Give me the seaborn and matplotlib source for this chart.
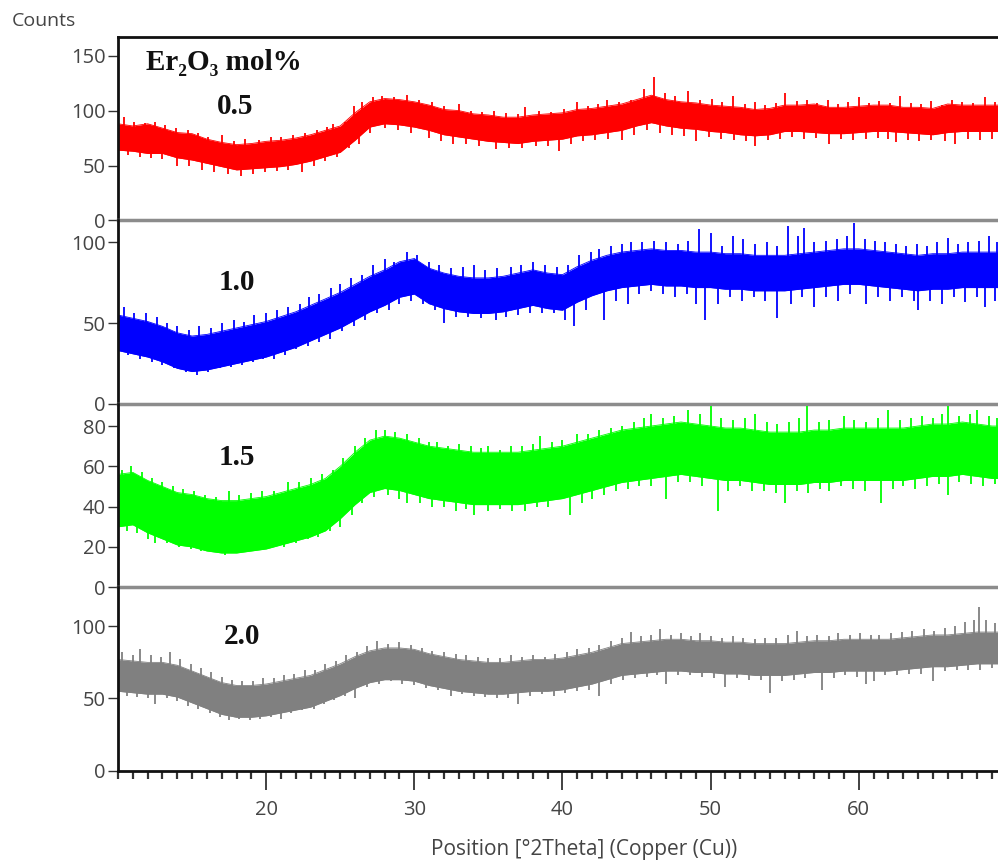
import numpy as np
import matplotlib
matplotlib.use("Agg")
import matplotlib.pyplot as plt
import seaborn as sns
from matplotlib.ticker import MultipleLocator

sns.set_theme(style="white")
plt.rcParams["font.family"] = ["Open Sans", "DejaVu Sans"]

# ---------------- data ----------------
DEG = list(range(10, 71))  # 2-theta sampling grid, degrees

LABELS = ["0.5", "1.0", "1.5", "2.0"]
COLORS = ["#ff0000", "#0000ff", "#00ff00", "#808080"]

# dense noise band (lower / upper edge) for each sample
RED_HI = [88, 86, 88, 84, 80, 79, 74, 71, 69, 70,
          72, 73, 75, 78, 82, 86, 98, 108, 111, 110,
          108, 105, 101, 100, 97, 96, 94, 94, 96, 97,
          98, 101, 102, 104, 106, 110, 114, 110, 108, 107,
          105, 104, 103, 101, 102, 105, 105, 106, 103, 103,
          104, 105, 105, 103, 103, 102, 106, 105, 105, 105, 105]
RED_LO = [64, 63, 61, 61, 57, 55, 52, 49, 46, 47,
          48, 49, 51, 54, 58, 62, 73, 85, 88, 87,
          85, 82, 78, 76, 74, 72, 71, 70, 72, 73,
          74, 77, 78, 80, 82, 86, 89, 86, 84, 83,
          81, 80, 78, 77, 78, 81, 81, 80, 79, 79,
          80, 81, 81, 80, 79, 78, 80, 81, 81, 81, 81]

BLUE_HI = [55, 53, 51, 48, 44, 42, 43, 45, 47, 49,
           51, 54, 57, 61, 65, 69, 74, 79, 83, 88,
           90, 84, 81, 79, 78, 78, 79, 81, 83, 81,
           80, 85, 89, 92, 94, 95, 96, 95, 95, 94,
           94, 93, 93, 92, 92, 92, 93, 94, 95, 96,
           96, 95, 94, 93, 92, 93, 93, 94, 94, 94, 94]
BLUE_LO = [33, 31, 29, 26, 22, 20, 21, 23, 25, 27,
           29, 32, 35, 39, 43, 47, 52, 57, 61, 66,
           68, 62, 59, 57, 56, 56, 57, 59, 61, 59,
           58, 63, 67, 70, 72, 73, 74, 73, 73, 72,
           72, 71, 71, 70, 70, 70, 71, 72, 73, 74,
           74, 73, 72, 71, 70, 71, 71, 72, 72, 72, 72]

GREEN_HI = [56, 57, 53, 50, 47, 46, 44, 43, 43, 44,
            45, 47, 49, 51, 54, 60, 67, 73, 75, 74,
            72, 70, 69, 68, 67, 67, 67, 67, 68, 69,
            70, 72, 74, 76, 78, 79, 80, 81, 82, 81,
            80, 79, 79, 78, 77, 77, 77, 78, 78, 79,
            79, 79, 79, 79, 80, 81, 81, 82, 81, 80, 80]
GREEN_LO = [30, 31, 27, 24, 21, 20, 18, 17, 17, 18,
            19, 21, 23, 25, 28, 34, 41, 47, 49, 48,
            46, 44, 43, 42, 41, 41, 41, 41, 42, 43,
            44, 46, 48, 50, 52, 53, 54, 55, 56, 55,
            54, 53, 53, 52, 51, 51, 51, 52, 52, 53,
            53, 53, 53, 53, 54, 55, 55, 56, 55, 54, 54]

GRAY_HI = [77, 76, 75, 75, 73, 69, 65, 61, 59, 59,
           60, 62, 64, 66, 70, 74, 79, 83, 85, 85,
           84, 81, 79, 77, 76, 75, 75, 76, 77, 77,
           78, 80, 82, 85, 88, 89, 90, 91, 91, 90,
           90, 89, 89, 88, 88, 88, 89, 90, 90, 91,
           91, 91, 91, 92, 93, 94, 94, 95, 96, 96, 96]
GRAY_LO = [55, 54, 53, 53, 51, 47, 43, 39, 37, 37,
           38, 40, 42, 44, 48, 52, 57, 61, 63, 63,
           62, 59, 57, 55, 54, 53, 53, 54, 55, 55,
           56, 58, 60, 63, 66, 67, 68, 69, 69, 68,
           68, 67, 67, 66, 66, 66, 67, 68, 68, 69,
           69, 69, 69, 70, 71, 72, 72, 73, 74, 74, 74]

# spikes rising above / dipping below the band (x in degrees, y in counts)
RED_UP_X = [10.4, 11.1, 11.8, 12.5, 13.2, 13.9, 14.7, 15.4, 16.1, 17.0, 17.8, 18.6, 19.5,
            20.3, 21.0, 21.8, 22.6, 23.4, 24.1, 24.5, 25.3, 25.9, 26.5, 27.2, 27.8, 28.6,
            29.5, 30.3, 31.2, 32.0, 33.0, 33.8, 34.6, 35.4, 36.2, 37.0, 37.5, 38.4, 39.2,
            40.1, 41.0, 41.7, 42.4, 43.0, 43.8, 44.6, 45.5, 46.2, 46.9, 47.6, 48.5, 49.3,
            50.1, 50.8, 51.5, 52.3, 53.0, 53.7, 54.4, 55.0, 55.8, 56.5, 57.2, 57.9, 58.6,
            59.3, 60.0, 60.7, 61.4, 62.1, 62.8, 63.5, 64.2, 64.9, 65.6, 66.3, 67.0, 67.7,
            68.5, 69.2]
RED_UP_Y = [94, 90, 89, 90, 87, 84, 82, 80, 76, 78, 72, 74, 73,
            76, 76, 78, 80, 82, 85, 88, 90, 104, 108, 112, 113, 112,
            114, 110, 108, 104, 106, 100, 99, 100, 98, 97, 103, 100, 99,
            101, 108, 104, 106, 110, 108, 110, 120, 131, 116, 113, 118, 110,
            111, 108, 113, 106, 108, 105, 107, 116, 109, 110, 107, 110, 106,
            108, 112, 107, 109, 107, 113, 107, 106, 109, 105, 110, 108, 107,
            112, 108]
RED_DN_X = [10.7, 11.5, 12.2, 13.0, 14.0, 14.8, 15.7, 16.5, 17.4, 18.3, 19.1, 19.9, 20.7,
            21.5, 22.4, 23.2, 24.0, 24.8, 25.6, 26.3, 27.0, 28.0, 28.9, 29.8, 31.0, 31.8,
            32.6, 33.5, 34.4, 35.5, 36.4, 37.3, 38.2, 39.0, 39.8, 40.6, 41.4, 42.2, 43.1,
            44.0, 44.8, 45.7, 46.6, 47.4, 48.2, 49.0, 49.9, 50.7, 51.6, 52.4, 53.0, 53.9,
            54.7, 55.5, 56.3, 57.1, 58.0, 58.8, 59.6, 60.5, 61.3, 62.0, 62.5, 63.3, 64.1,
            64.9, 65.8, 66.5, 67.4, 68.2, 69.0]
RED_DN_Y = [60, 58, 57, 56, 50, 50, 46, 44, 42, 40, 42, 44, 45,
            46, 44, 50, 54, 58, 66, 70, 80, 84, 82, 80, 75, 72,
            70, 70, 68, 65, 66, 66, 68, 68, 63, 70, 72, 73, 74,
            73, 78, 82, 80, 78, 77, 72, 76, 74, 73, 72, 68, 73,
            74, 76, 74, 75, 70, 74, 73, 74, 75, 74, 71, 73, 72,
            73, 72, 70, 74, 73, 74]

BLUE_UP_X = [10.4, 11.1, 11.9, 12.6, 13.3, 14.0, 14.8, 15.5, 16.3, 17.0, 17.8, 18.5, 19.2,
             20.0, 20.7, 21.5, 22.3, 22.9, 23.6, 24.4, 25.0, 25.7, 26.5, 27.2, 28.0, 28.6,
             29.5, 30.2, 31.0, 31.7, 32.5, 33.3, 34.0, 34.8, 35.6, 36.5, 37.2, 38.0, 38.8,
             39.6, 40.4, 41.1, 41.9, 42.5, 43.3, 44.0, 44.6, 45.4, 46.2, 47.0, 47.8, 48.5,
             49.2, 50.0, 50.8, 51.5, 52.2, 53.0, 53.8, 54.5, 55.2, 55.9, 56.3, 57.0, 57.8,
             58.5, 59.2, 59.7, 60.4, 61.1, 61.8, 62.5, 63.2, 63.9, 64.6, 65.3, 66.0, 66.7,
             67.4, 68.1, 68.8, 69.3]
BLUE_UP_Y = [60, 56, 56, 54, 50, 48, 46, 48, 47, 50, 52, 51, 55,
             56, 58, 60, 62, 66, 68, 72, 74, 78, 80, 86, 90, 88,
             94, 92, 88, 86, 84, 85, 86, 83, 84, 85, 86, 88, 86,
             85, 86, 92, 94, 96, 98, 99, 100, 100, 101, 100, 99, 101,
             108, 106, 98, 104, 102, 99, 100, 98, 110, 104, 109, 100, 101,
             102, 104, 112, 102, 101, 100, 99, 98, 99, 98, 100, 103, 99,
             100, 101, 104, 100]
BLUE_DN_X = [10.7, 11.5, 12.3, 13.0, 13.8, 14.6, 15.3, 16.1, 16.9, 17.6, 18.4, 19.1, 19.8,
             20.5, 21.3, 22.0, 22.8, 23.6, 24.3, 25.1, 25.9, 26.7, 27.5, 28.3, 29.0, 29.8,
             30.6, 31.4, 32.0, 32.8, 33.6, 34.5, 35.5, 36.2, 37.0, 37.8, 38.6, 39.4, 40.2,
             40.8, 41.6, 42.8, 43.6, 44.4, 45.2, 46.0, 46.8, 47.6, 48.4, 49.0, 49.6, 50.5,
             51.3, 52.1, 52.9, 53.7, 54.5, 55.4, 56.2, 57.0, 57.8, 58.6, 59.4, 60.5, 61.3,
             62.1, 62.9, 63.7, 64.0, 64.8, 65.6, 66.4, 67.2, 68.0, 68.5, 69.2]
BLUE_DN_Y = [30, 28, 26, 24, 22, 20, 18, 20, 22, 23, 24, 26, 28,
             28, 30, 34, 36, 38, 40, 45, 48, 52, 56, 58, 62, 64,
             62, 58, 50, 54, 54, 53, 52, 54, 55, 56, 56, 56, 52,
             48, 58, 52, 64, 62, 68, 70, 68, 66, 68, 62, 52, 62,
             66, 64, 66, 64, 53, 62, 66, 60, 66, 64, 68, 62, 66,
             64, 66, 64, 58, 64, 62, 66, 63, 66, 60, 64]

GREEN_UP_X = [10.3, 10.9, 11.6, 12.3, 13.0, 13.7, 14.4, 15.1, 15.9, 16.6, 17.5, 18.2, 19.0,
              19.7, 20.5, 21.5, 22.2, 23.0, 23.8, 24.5, 25.2, 26.0, 26.7, 27.4, 28.0, 28.7,
              29.5, 30.3, 31.0, 31.5, 32.3, 33.0, 33.8, 34.5, 35.0, 35.8, 36.5, 37.3, 38.0,
              38.5, 39.3, 40.0, 41.0, 41.7, 42.5, 43.3, 44.0, 44.8, 45.5, 46.0, 46.8, 47.5,
              48.5, 49.3, 50.0, 50.7, 51.5, 52.3, 53.0, 53.8, 54.5, 55.3, 56.0, 56.5, 57.3,
              58.0, 59.0, 59.7, 60.5, 61.3, 62.0, 62.8, 63.5, 64.3, 65.0, 65.6, 66.0, 66.8,
              67.5, 68.0, 68.8, 69.3]
GREEN_UP_Y = [58, 60, 57, 54, 52, 50, 49, 48, 46, 45, 48, 46, 47,
              48, 48, 52, 52, 54, 56, 58, 64, 70, 74, 78, 78, 77,
              76, 74, 72, 72, 70, 71, 70, 69, 70, 68, 70, 70, 71,
              75, 72, 73, 76, 76, 78, 79, 80, 82, 84, 86, 84, 85,
              88, 86, 90, 84, 83, 84, 86, 82, 81, 82, 84, 90, 82,
              83, 85, 83, 82, 84, 88, 83, 84, 85, 84, 86, 90, 85,
              86, 88, 85, 84]
GREEN_DN_X = [10.6, 11.3, 12.0, 12.5, 13.3, 14.1, 14.9, 15.6, 16.5, 17.2, 18.0, 18.8, 19.5,
              20.5, 21.2, 22.0, 22.8, 23.5, 24.3, 25.0, 25.8, 26.5, 27.3, 28.2, 29.0, 29.5,
              30.4, 31.2, 32.0, 32.8, 33.5, 34.0, 35.0, 35.8, 36.6, 37.5, 38.3, 39.0, 40.5,
              41.3, 42.0, 42.8, 43.6, 44.4, 45.2, 46.0, 47.0, 47.8, 48.6, 49.4, 50.5, 51.2,
              52.0, 52.8, 53.6, 54.4, 55.0, 55.8, 56.6, 57.4, 58.0, 58.8, 59.6, 60.4, 61.5,
              62.3, 63.0, 63.8, 64.6, 65.4, 66.0, 66.8, 67.6, 68.4, 69.2]
GREEN_DN_Y = [28, 27, 24, 22, 22, 20, 19, 18, 18, 16, 17, 18, 19,
              20, 20, 22, 24, 25, 28, 30, 36, 42, 45, 46, 44, 42,
              42, 40, 40, 38, 39, 36, 38, 39, 38, 38, 40, 40, 36,
              42, 44, 46, 48, 49, 50, 50, 44, 52, 52, 50, 38, 48,
              50, 48, 48, 47, 42, 48, 47, 49, 48, 50, 49, 48, 42,
              49, 50, 49, 50, 51, 46, 52, 51, 50, 51]

GRAY_UP_X = [10.3, 11.0, 11.5, 12.2, 12.9, 13.5, 14.2, 14.9, 15.6, 16.3, 17.0, 17.7, 18.4,
             19.1, 19.8, 20.5, 21.2, 21.9, 22.6, 23.3, 24.0, 24.7, 25.4, 26.1, 26.8, 27.5,
             28.2, 29.0, 29.8, 30.5, 31.2, 32.0, 32.8, 33.5, 34.3, 35.0, 35.8, 36.5, 37.3,
             38.0, 38.8, 39.5, 40.3, 41.0, 41.8, 42.5, 43.3, 44.0, 44.6, 45.3, 46.0, 46.6,
             47.3, 48.0, 48.7, 49.3, 50.0, 50.8, 51.5, 52.2, 53.0, 53.7, 54.4, 55.2, 55.8,
             56.5, 57.2, 58.0, 58.6, 59.4, 60.1, 60.8, 61.4, 62.2, 62.9, 63.6, 64.4, 65.1,
             65.8, 66.5, 67.2, 67.8, 68.1, 68.6, 69.2]
GRAY_UP_Y = [82, 80, 84, 80, 79, 82, 77, 74, 71, 68, 65, 63, 62,
             62, 64, 64, 66, 67, 70, 70, 74, 76, 80, 82, 86, 90,
             88, 89, 87, 85, 83, 82, 81, 80, 79, 78, 78, 80, 79,
             80, 79, 81, 82, 84, 85, 87, 90, 92, 96, 93, 94, 98,
             94, 95, 93, 95, 93, 92, 93, 92, 91, 92, 92, 94, 97,
             93, 94, 93, 95, 94, 95, 94, 94, 95, 96, 97, 98, 97,
             99, 100, 103, 104, 113, 104, 102]
GRAY_DN_X = [10.6, 11.3, 12.0, 12.5, 13.3, 14.0, 14.7, 15.4, 16.2, 16.9, 17.5, 18.2, 18.9,
             19.6, 20.3, 21.0, 21.7, 22.4, 23.2, 23.9, 24.6, 25.3, 26.0, 26.8, 27.6, 28.4,
             29.2, 30.0, 30.8, 31.6, 32.5, 33.2, 34.0, 34.8, 35.6, 36.3, 37.0, 37.8, 38.6,
             39.4, 40.2, 41.0, 41.8, 42.5, 43.3, 44.1, 44.9, 45.7, 46.4, 47.0, 47.8, 48.6,
             49.4, 50.2, 51.0, 51.8, 52.6, 53.4, 54.0, 54.8, 55.6, 56.4, 57.5, 58.3, 59.1,
             59.9, 60.5, 61.0, 61.8, 62.6, 63.4, 64.2, 65.0, 65.8, 66.6, 67.4, 68.2, 69.0]
GRAY_DN_Y = [52, 51, 50, 46, 50, 48, 45, 43, 40, 37, 35, 36, 35,
             36, 37, 36, 40, 42, 43, 46, 49, 52, 50, 58, 60, 62,
             60, 59, 57, 56, 52, 53, 52, 51, 50, 50, 46, 52, 53,
             52, 54, 55, 56, 52, 60, 63, 64, 65, 66, 60, 66, 66,
             65, 64, 58, 64, 63, 63, 54, 62, 63, 64, 56, 64, 66,
             65, 60, 62, 66, 66, 67, 67, 62, 69, 70, 70, 70, 71]

BANDS = [(RED_LO, RED_HI), (BLUE_LO, BLUE_HI), (GREEN_LO, GREEN_HI), (GRAY_LO, GRAY_HI)]
SPIKES = [(RED_UP_X, RED_UP_Y, RED_DN_X, RED_DN_Y),
          (BLUE_UP_X, BLUE_UP_Y, BLUE_DN_X, BLUE_DN_Y),
          (GREEN_UP_X, GREEN_UP_Y, GREEN_DN_X, GREEN_DN_Y),
          (GRAY_UP_X, GRAY_UP_Y, GRAY_DN_X, GRAY_DN_Y)]

YLIMS = [167, 113.6, 91, 127]
YTICKS = [[0, 50, 100, 150], [0, 50, 100], [0, 20, 40, 60, 80], [0, 50, 100]]
X_MAJOR = [20, 30, 40, 50, 60]
X_RANGE = (10, 69.4)

# ---------------- figure ----------------
W, Hpx = 998, 867
fig = plt.figure(figsize=(W / 100, Hpx / 100), dpi=100)
L, R = 118 / W, 1.0
B, T = 1 - 770.7 / Hpx, 1 - 37 / Hpx
h = (T - B) / 4
axes = [fig.add_axes([L, T - (i + 1) * h, R - L, h]) for i in range(4)]

TXT = "#444444"
for i, ax in enumerate(axes):
    lo, hi = BANDS[i]
    col = COLORS[i]
    ax.fill_between(DEG, lo, hi, color=col, lw=0)
    sns.lineplot(x=DEG, y=hi, ax=ax, color=col, lw=0.6)
    sns.lineplot(x=DEG, y=lo, ax=ax, color=col, lw=0.6)
    mid = (np.array(lo) + np.array(hi)) / 2
    ux, uy, dx, dy = SPIKES[i]
    ax.vlines(ux, np.interp(ux, DEG, mid), uy, color=col, lw=1.3)
    ax.vlines(dx, dy, np.interp(dx, DEG, mid), color=col, lw=1.3)

    ax.set_xlim(*X_RANGE)
    ax.set_ylim(0, YLIMS[i])
    ax.set_yticks(YTICKS[i])
    ax.set_ylabel("")
    ax.set_xlabel("")
    ax.tick_params(axis="y", direction="out", length=7, width=1, color="#333333",
                   labelsize=14.5, labelcolor=TXT, pad=2, left=True)
    ax.spines["right"].set_visible(False)
    ax.spines["left"].set_color("#111111")
    ax.spines["left"].set_linewidth(2)
    if i == 0:
        ax.spines["top"].set_color("#111111")
        ax.spines["top"].set_linewidth(2)
    else:
        ax.spines["top"].set_visible(False)
    if i < 3:
        ax.spines["bottom"].set_color("#8c8c8c")
        ax.spines["bottom"].set_linewidth(2.5)
        ax.tick_params(axis="x", bottom=False, labelbottom=False)
    else:
        ax.spines["bottom"].set_color("#111111")
        ax.spines["bottom"].set_linewidth(2)
        ax.set_xticks(X_MAJOR)
        ax.xaxis.set_minor_locator(MultipleLocator(1))
        ax.tick_params(axis="x", which="major", direction="out", length=14, width=1.3,
                       color="#333333", labelsize=14.5, labelcolor=TXT, pad=7, bottom=True)
        ax.tick_params(axis="x", which="minor", direction="out", length=6, width=1.6,
                       color="#333333", bottom=True)
    ax.patch.set_alpha(0)

# annotations
serif = ["Liberation Serif", "DejaVu Serif"]
fig.text(224 / W, 1 - 62 / Hpx, "Er\u2082O\u2083 mol%", ha="center", va="center",
         fontsize=21, fontweight="bold", family=serif, color="#111111")
label_pos = [(235, 106), (237, 282), (237, 458), (242, 637)]
for (px, py), lab in zip(label_pos, LABELS):
    fig.text(px / W, 1 - py / Hpx, lab, ha="center", va="center", fontsize=21,
             fontweight="bold", family=serif, color="#111111")

fig.text(12 / W, 1 - 21 / Hpx, "Counts", ha="left", va="center", fontsize=14, color=TXT)
fig.text(584 / W, 1 - 850 / Hpx, "Position [°2Theta] (Copper (Cu))", ha="center",
         va="center", fontsize=15, color=TXT)

fig.savefig("out.png", dpi=100)
